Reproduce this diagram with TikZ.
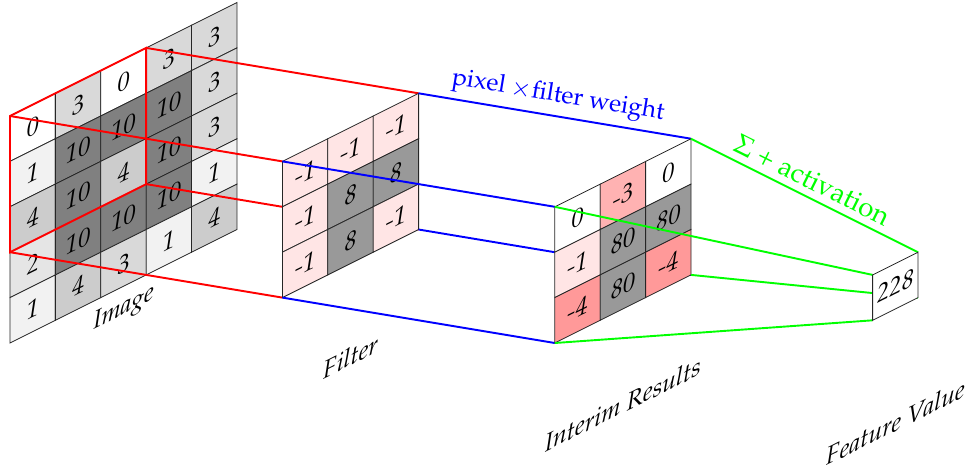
\documentclass[tikz,border=0pt]{standalone}
\usepackage[T1]{fontenc}
\usepackage{mathpazo}
\newcommand\cellsize{\fontsize{15.5}{18}\selectfont}
\tikzset{
  cell/.style={draw=black!85, line width=0.5pt, minimum size=1cm, inner sep=0pt,
    outer sep=0pt, font=\cellsize\itshape, transform shape},
  lab/.style={font=\cellsize\itshape, transform shape, inner sep=0pt},
  link/.style={line width=1.2pt},
  linklab/.style={font=\cellsize, midway, sloped, above, inner sep=4pt},
}
\begin{document}
\begin{tikzpicture}
\useasboundingbox (-0.22,-2.885) rectangle (21.233,7.555);

% corner coordinates of the four layers
\begin{scope}[yslant=0.5]
  \coordinate (win-bl) at (0,2); \coordinate (win-tl) at (0,5);
  \coordinate (win-tr) at (3,5); \coordinate (win-br) at (3,2);
\end{scope}
\begin{scope}[shift={(6,1)},yslant=0.5]
  \coordinate (fil-bl) at (0,0); \coordinate (fil-tl) at (0,3);
  \coordinate (fil-tr) at (3,3); \coordinate (fil-br) at (3,0);
\end{scope}
\begin{scope}[shift={(12,0)},yslant=0.5]
  \coordinate (int-bl) at (0,0); \coordinate (int-tl) at (0,3);
  \coordinate (int-tr) at (3,3); \coordinate (int-br) at (3,0);
\end{scope}
\begin{scope}[shift={(19,0.5)},yslant=0.5]
  \coordinate (out-bl) at (0,0); \coordinate (out-tl) at (0,1);
  \coordinate (out-tr) at (1,1); \coordinate (out-br) at (1,0);
\end{scope}

% input image, shaded by pixel value
\begin{scope}[yslant=0.5]
  \foreach \row [count=\r from 0] in {{0,3,0,3,3},{1,10,10,10,3},{4,10,4,10,3},{2,10,10,10,1},{1,4,3,1,4}} {
    \foreach \v [count=\c from 0] in \row {
      \pgfmathtruncatemacro\lvl{10*\v}
      \node[cell, fill=gray!\lvl] (img-\r-\c) at (\c+0.5, 4.5-\r) {\v};
    }
  }
  \node[lab] (img-label) at (2.5,-0.5) {Image};
\end{scope}

% receptive field and its projection onto the filter
\draw[link, red] (win-bl) -- (win-tl) -- (win-tr) -- (win-br) -- cycle;
\draw[link, red] (win-bl) -- (fil-bl);
\draw[link, red] (win-tl) -- (fil-tl);
\draw[link, red] (win-tr) -- (fil-tr);
\draw[link, red] (win-br) -- (fil-br);

% filter
\begin{scope}[shift={(6,1)},yslant=0.5]
  \foreach \row [count=\r from 0] in {{-1/red!10,-1/red!10,-1/red!10},{-1/red!10,8/gray!80,8/gray!80},{-1/red!10,8/gray!80,-1/red!10}} {
    \foreach \v/\col [count=\c from 0] in \row {
      \node[cell, fill=\col] (fil-\r-\c) at (\c+0.5, 2.5-\r) {\v};
    }
  }
  \node[lab] (fil-label) at (1.5,-2.05) {Filter};
\end{scope}

\draw[link, blue] (fil-bl) -- (int-bl);
\draw[link, blue] (fil-tl) -- (int-tl);
\draw[link, blue] (fil-tr) -- node[linklab] (mul-label) {pixel $\times$filter weight} (int-tr);
\draw[link, blue] (fil-br) -- (int-br);

% elementwise products
\begin{scope}[shift={(12,0)},yslant=0.5]
  \foreach \row [count=\r from 0] in {{0/white,-3/red!30,0/white},{-1/red!10,80/gray!80,80/gray!80},{-4/red!40,80/gray!80,-4/red!40}} {
    \foreach \v/\col [count=\c from 0] in \row {
      \node[cell, fill=\col] (int-\r-\c) at (\c+0.5, 2.5-\r) {\v};
    }
  }
  \node[lab] (int-label) at (1.5,-2.1) {Interim Results};
\end{scope}

\draw[link, green] (int-bl) -- (out-bl);
\draw[link, green] (int-tl) -- (out-tl);
\draw[link, green] (int-tr) -- node[linklab, font=\LARGE] (sum-label) {$\Sigma$ + activation} (out-tr);
\draw[link, green] (int-br) -- (out-br);

% resulting feature value
\begin{scope}[shift={(19,0.5)},yslant=0.5]
  \node[cell, fill=white] (out-0-0) at (0.5,0.5) {228};
  \node[lab] (out-label) at (0.5,-2.5) {Feature Value};
\end{scope}
\end{tikzpicture}
\end{document}
